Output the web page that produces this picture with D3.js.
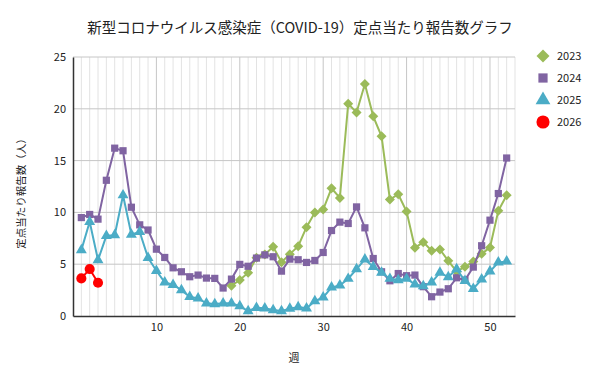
<!DOCTYPE html>
<html>
<head>
<meta charset="utf-8">
<script src="https://cdn.jsdelivr.net/npm/d3@7"></script>
<style>
  body { margin: 0; background: #fff; }
  text { font-family: "Noto Sans CJK JP", "Noto Sans", sans-serif; }
</style>
</head>
<body>
<svg id="chart" width="600" height="384"></svg>
<script>
// 週ごとの定点当たり報告数
var weeks = d3.range(1, 53);
var years = ["2023", "2024", "2025", "2026"];
var v2023 = [null, null, null, null, null, null, null, null, null, null, null, null, null, null, null, null, null, null,
    2.92, 3.47, 4.18, 5.62, 5.94, 6.68, 5.2, 5.97, 6.74, 8.57, 9.99, 10.28, 12.33, 11.4, 20.49, 19.65, 22.4,
    19.27, 17.34, 11.24, 11.75, 10.09, 6.58, 7.13, 6.3, 6.42, 5.33, 4.3, 4.75, 5.27, 6.0, 6.62, 10.15, 11.66];
var v2024 = [9.5, 9.8, 9.35, 13.1, 16.2, 15.95, 10.5, 8.8, 8.3, 6.45, 5.65, 4.65, 4.27, 3.79, 3.95, 3.66, 3.63, 2.7,
    3.56, 4.98, 4.8, 5.59, 5.9, 5.72, 4.33, 5.49, 5.43, 5.17, 5.36, 6.13, 8.25, 9.06, 8.93, 10.53, 8.51,
    5.55, 4.27, 3.4, 4.1, 3.89, 3.95, 2.83, 1.86, 2.31, 2.63, 3.69, 3.47, 4.72, 6.78, 9.25, 11.82, 15.25];
var v2025 = [6.36, 9.09, 5.4, 7.74, 7.8, 11.66, 7.87, 8.12, 5.62, 4.37, 3.24, 3.02, 2.5, 1.86, 1.7, 1.22, 1.15, 1.22,
    1.22, 0.96, 0.48, 0.8, 0.74, 0.58, 0.48, 0.71, 0.87, 0.74, 1.44, 1.8, 2.76, 2.95, 3.6, 4.53, 5.46,
    4.75, 4.18, 3.6, 3.47, 3.6, 3.05, 2.89, 3.24, 4.18, 3.76, 4.53, 3.4, 2.63, 3.53, 4.3, 5.17, 5.27];
var v2026 = [3.63, 4.53, 3.21];
var yTicks = [0, 5, 10, 15, 20, 25];
var xTicks = [10, 20, 30, 40, 50];

var colors = { "2023": "#9bbb59", "2024": "#8064a2", "2025": "#4bacc6", "2026": "#ff0000" };
var symbols = { "2023": d3.symbolSquare, "2024": d3.symbolSquare, "2025": d3.symbolTriangle, "2026": d3.symbolCircle };
var rotate = { "2023": 45, "2024": 0, "2025": 0, "2026": 0 };
var sizes = { "2023": 50, "2024": 52, "2025": 52, "2026": 80 };
var legendSizes = { "2023": 85, "2024": 85, "2025": 95, "2026": 135 };

var series = [
    { name: "2023", values: v2023 },
    { name: "2024", values: v2024 },
    { name: "2025", values: v2025 },
    { name: "2026", values: v2026 }
];

var svg = d3.select("#chart");
var margin = { left: 73, top: 57, right: 85, bottom: 68 };
var width = 600 - margin.left - margin.right;
var height = 384 - margin.top - margin.bottom;

var x = d3.scaleLinear().domain([0, 53]).range([0, width]);
var y = d3.scaleLinear().domain([0, 25]).range([height, 0]);

var g = svg.append("g").attr("transform", "translate(" + margin.left + "," + margin.top + ")");

// grid
g.append("g").selectAll("line")
    .data(d3.range(1, 54))
    .enter().append("line")
    .attr("x1", function (d) { return x(d); })
    .attr("x2", function (d) { return x(d); })
    .attr("y1", 0).attr("y2", height)
    .attr("stroke", function (d) { return d % 10 === 0 ? "#c6c6c6" : "#e3e3e3"; })
    .attr("stroke-width", 1);
g.append("g").selectAll("line")
    .data(yTicks.slice(1))
    .enter().append("line")
    .attr("x1", 0).attr("x2", width)
    .attr("y1", function (d) { return y(d); })
    .attr("y2", function (d) { return y(d); })
    .attr("stroke", "#c6c6c6");

// axes
var yAxis = g.append("g").call(d3.axisLeft(y).tickValues(yTicks).tickSize(0).tickPadding(7));
var xAxis = g.append("g").attr("transform", "translate(0," + height + ")")
    .call(d3.axisBottom(x).tickValues(xTicks).tickSize(0).tickPadding(7));
[yAxis, xAxis].forEach(function (a) {
    a.select(".domain").attr("stroke", "#333").attr("stroke-width", 1.5);
    a.selectAll("text").attr("font-size", 11).attr("fill", "#222")
        .attr("font-family", "'Noto Sans', sans-serif");
});

// lines and markers
var line = d3.line()
    .defined(function (d) { return d != null; })
    .x(function (d, i) { return x(weeks[i]); })
    .y(function (d) { return y(d); });

series.forEach(function (s) {
    g.append("path")
        .datum(s.values)
        .attr("fill", "none")
        .attr("stroke", colors[s.name])
        .attr("stroke-width", 2)
        .attr("d", line);
    g.append("g").selectAll("path")
        .data(s.values.map(function (v, i) { return { w: weeks[i], v: v }; }).filter(function (d) { return d.v != null; }))
        .enter().append("path")
        .attr("d", d3.symbol().type(symbols[s.name]).size(sizes[s.name]))
        .attr("transform", function (d) {
            return "translate(" + x(d.w) + "," + y(d.v) + ") rotate(" + rotate[s.name] + ")";
        })
        .attr("fill", colors[s.name]);
});

// title and labels
svg.append("text").attr("x", 300).attr("y", 33).attr("text-anchor", "middle")
    .attr("font-size", 14.5).attr("fill", "#222")
    .text("新型コロナウイルス感染症（COVID-19）定点当たり報告数グラフ");
svg.append("text").attr("x", 294).attr("y", 362).attr("text-anchor", "middle")
    .attr("font-size", 11).attr("fill", "#222").text("週");
svg.append("text").attr("transform", "translate(25,191) rotate(-90)")
    .attr("text-anchor", "middle").attr("font-size", 10.5).attr("fill", "#222")
    .text("定点当たり報告数（人）");

// legend
var legend = svg.append("g").attr("transform", "translate(543,56)");
years.forEach(function (yr, i) {
    var item = legend.append("g").attr("transform", "translate(0," + (i * 22) + ")");
    item.append("path")
        .attr("d", d3.symbol().type(symbols[yr]).size(legendSizes[yr]))
        .attr("transform", "rotate(" + rotate[yr] + ")")
        .attr("fill", colors[yr]);
    item.append("text").attr("x", 14).attr("y", 4).attr("font-size", 11).attr("fill", "#222")
        .attr("font-family", "'Noto Sans', sans-serif").text(yr);
});
</script>
</body>
</html>
